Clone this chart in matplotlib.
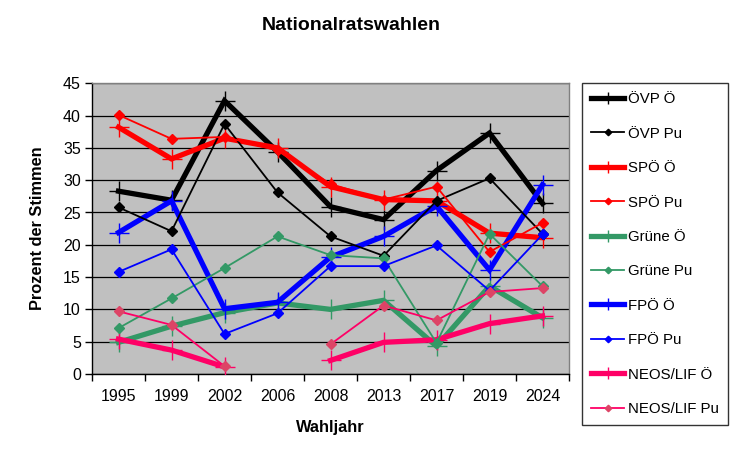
import numpy as np
import matplotlib
matplotlib.use("Agg")
import matplotlib.pyplot as plt

plt.rcParams['font.family'] = ['Liberation Sans', 'DejaVu Sans']

years = ['1995', '1999', '2002', '2006', '2008', '2013', '2017', '2019', '2024']
nan = np.nan
oevp_oe = [28.3, 26.9, 42.3, 34.4, 25.9, 23.9, 31.5, 37.3, 26.4]
oevp_pu = [25.8, 22.1, 38.7, 28.1, 21.3, 18.3, 26.8, 30.3, 21.7]
spoe_oe = [38.2, 33.3, 36.5, 35.0, 29.0, 27.0, 26.8, 21.8, 21.1]
spoe_pu = [40.1, 36.4, 36.7, 34.6, 29.4, 27.0, 29.0, 18.9, 23.4]
gruene_oe = [4.9, 7.4, 9.5, 11.0, 10.0, 11.4, 4.3, 13.6, 8.7]
gruene_pu = [7.1, 11.7, 16.4, 21.3, 18.4, 17.9, 4.8, 21.7, 13.6]
fpoe_oe = [21.9, 26.8, 10.1, 11.1, 18.1, 21.3, 26.0, 16.1, 29.3]
fpoe_pu = [15.8, 19.3, 6.2, 9.4, 16.7, 16.7, 19.9, 12.9, 21.6]
neos_oe = [5.4, 3.7, 1.1, nan, 2.1, 4.9, 5.3, 7.8, 9.0]
neos_pu = [9.7, 7.6, 1.2, nan, 4.6, 10.6, 8.3, 12.7, 13.3]

labels = ['ÖVP Ö', 'ÖVP Pu', 'SPÖ Ö', 'SPÖ Pu', 'Grüne Ö', 'Grüne Pu',
          'FPÖ Ö', 'FPÖ Pu', 'NEOS/LIF Ö', 'NEOS/LIF Pu']
series = [oevp_oe, oevp_pu, spoe_oe, spoe_pu, gruene_oe, gruene_pu,
          fpoe_oe, fpoe_pu, neos_oe, neos_pu]
colors = ['#000000', '#000000', '#FF0000', '#FF0000', '#339966', '#339966',
          '#0000FF', '#0000FF', '#FF0066', '#FF0066']
mcolors = ['#000000', '#000000', '#FF0000', '#FF0000', '#339966', '#339966',
           '#0000FF', '#0000FF', '#FF0066', '#DD4466']

fig = plt.figure(figsize=(7.35, 4.61), dpi=100)
fig.patch.set_facecolor('white')
ax = fig.add_axes([92/735, 1-374/461, (569-92)/735, (374-83.3)/461])
ax.set_facecolor('#C0C0C0')

x = np.arange(len(years))
for i, (vals, lab) in enumerate(zip(series, labels)):
    thick = (i % 2 == 0)
    if thick:
        ax.plot(x, vals, color=colors[i], lw=3.8, marker='+', ms=14, mew=1.0,
                mec=mcolors[i], label=lab, zorder=3, solid_joinstyle='miter')
    else:
        ax.plot(x, vals, color=colors[i], lw=1.3, marker='D', ms=5.5,
                mfc=mcolors[i], mec=mcolors[i], label=lab, zorder=4)

ax.set_xlim(-0.5, len(years) - 0.5)
ax.set_ylim(0, 45)
ax.set_yticks(np.arange(0, 46, 5))
ax.yaxis.grid(True, color='black', lw=0.9)
ax.set_axisbelow(True)
ax.set_xticks(x)
ax.set_xticklabels(years, fontsize=11.5)
ax.set_xticks(np.arange(-0.5, len(years), 1), minor=True)
ax.tick_params(axis='x', which='major', length=0, pad=11)
ax.tick_params(axis='x', which='minor', length=5, width=1, direction='out')
ax.tick_params(axis='y', length=5, width=1, direction='out', labelsize=11.5, pad=3)
for s in ['top', 'right']:
    ax.spines[s].set_color('#808080')
    ax.spines[s].set_linewidth(1)
for s in ['left', 'bottom']:
    ax.spines[s].set_color('black')
    ax.spines[s].set_linewidth(1)

ax.set_ylabel('Prozent der Stimmen', fontsize=11.8, fontweight='bold', labelpad=13)
ax.set_xlabel('Wahljahr', fontsize=11.8, fontweight='bold', labelpad=11)
fig.text(0.4775, 1-25/461, 'Nationalratswahlen', ha='center', va='center',
         fontsize=14, fontweight='bold')

leg = fig.legend(loc='upper left', bbox_to_anchor=(581.7/735, 1-83.3/461),
                 bbox_transform=fig.transFigure, fontsize=10.8, frameon=True,
                 fancybox=False, edgecolor='black', handlelength=2.25,
                 handletextpad=0.25, labelspacing=1.36, borderpad=0.6,
                 borderaxespad=0, markerscale=0.6)
leg.get_frame().set_linewidth(1)

fig.savefig('out.png', dpi=100, facecolor='white')
